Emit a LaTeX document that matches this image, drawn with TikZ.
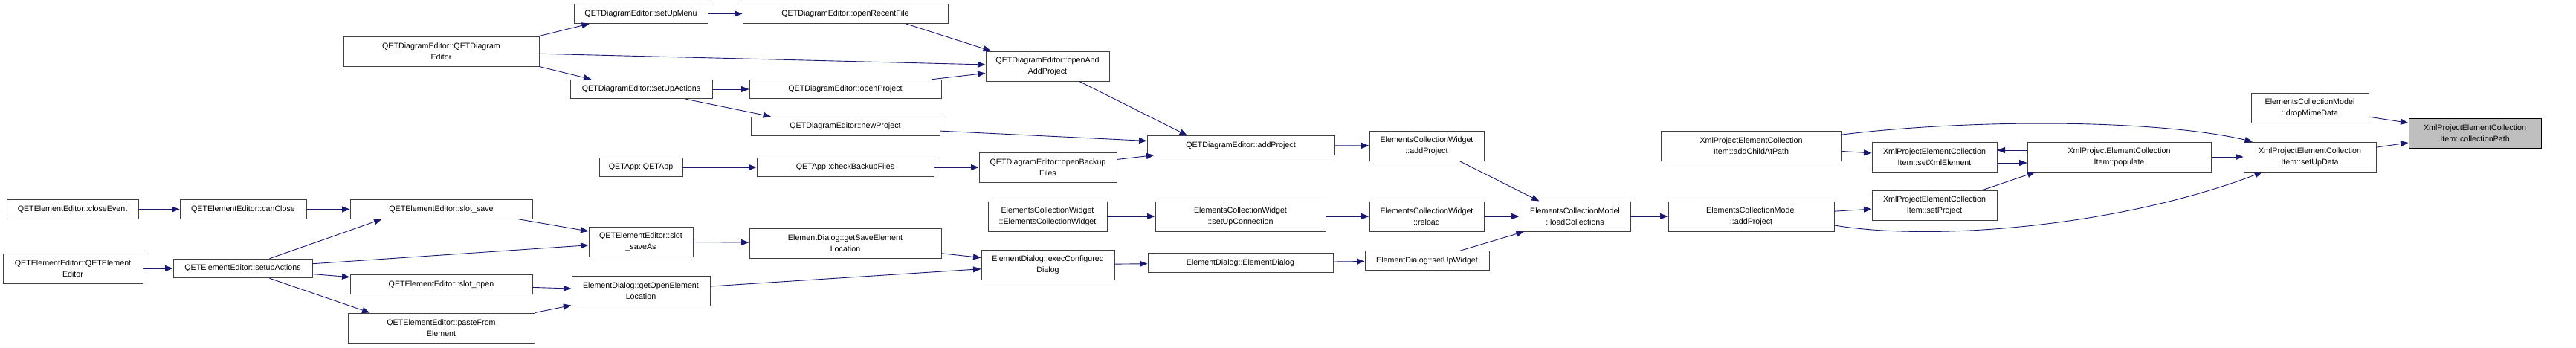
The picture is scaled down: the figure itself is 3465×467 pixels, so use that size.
\documentclass[tikz,border=0pt]{standalone}
\usepackage{fontspec}
\setmainfont{Liberation Sans}
\usetikzlibrary{arrows.meta}
\definecolor{edgeblue}{RGB}{25,25,112}
\definecolor{boxgrey}{RGB}{64,64,64}
\definecolor{hlgrey}{RGB}{191,191,191}

\begin{document}
\begin{tikzpicture}[x=1pt,y=-1pt,
  font=\fontsize{10.7pt}{14.6pt}\selectfont,
  fn/.style={draw=boxgrey,line width=1pt,fill=white,inner sep=0pt,
    align=center,minimum width=#1pt},
  one/.style={minimum height=25.5pt},
  two/.style={minimum height=40pt},
  arr/.style={edgeblue,line width=0.9pt,
    -{Triangle[length=10.5pt,width=8pt]}}]

\useasboundingbox (0,0) rectangle (3465,467);

% ---- QETElementEditor column ----
\node[fn=177,one] (closeEvent) at (97.5,281.5) {QETElementEditor::closeEvent};
\node[fn=188,two] (qeeCtor) at (98,361) {QETElementEditor::QETElement\\Editor};
\node[fn=170,one] (canClose) at (327,281.5) {QETElementEditor::canClose};
\node[fn=187,one] (qeeSetupActions) at (326.5,361) {QETElementEditor::setupActions};
\node[fn=245,one] (slotSave) at (593.5,281.5) {QETElementEditor::slot\_save};
\node[fn=245,one] (slotOpen) at (593.5,382.5) {QETElementEditor::slot\_open};
\node[fn=251,two] (pasteFrom) at (593.5,441) {QETElementEditor::pasteFrom\\Element};
\node[fn=140,two] (slotSaveAs) at (862,325) {QETElementEditor::slot\\\_saveAs};

% ---- ElementDialog ----
\node[fn=186,two] (getOpen) at (862,391) {ElementDialog::getOpenElement\\Location};
\node[fn=258,two] (getSave) at (1137,327) {ElementDialog::getSaveElement\\Location};
\node[fn=179,two] (execConf) at (1409.5,356) {ElementDialog::execConfigured\\Dialog};
\node[fn=249,one] (edCtor) at (1668.5,353.5) {ElementDialog::ElementDialog};
\node[fn=167,one] (setUpWidget) at (1919.5,350.5) {ElementDialog::setUpWidget};

% ---- collection widget / model ----
\node[fn=160,two] (ecwCtor) at (1409,291) {ElementsCollectionWidget\\::ElementsCollectionWidget};
\node[fn=229,two] (setUpConn) at (1668.5,291) {ElementsCollectionWidget\\::setUpConnection};
\node[fn=154,two] (reload) at (1919,291) {ElementsCollectionWidget\\::reload};
\node[fn=154,two] (ecwAddProject) at (1919,196) {ElementsCollectionWidget\\::addProject};
\node[fn=149,two] (loadColl) at (2118.5,291) {ElementsCollectionModel\\::loadCollections};
\node[fn=223,two] (ecmAddProject) at (2355.5,291) {ElementsCollectionModel\\::addProject};
\node[fn=158,two] (dropMimeData) at (3107,145) {ElementsCollectionModel\\::dropMimeData};

% ---- XmlProjectElementCollectionItem ----
\node[fn=243,two] (addChildAtPath) at (2355.5,196) {XmlProjectElementCollection\\Item::addChildAtPath};
\node[fn=168,two] (setXmlElement) at (2602,211) {XmlProjectElementCollection\\Item::setXmlElement};
\node[fn=168,two] (setProject) at (2602,276) {XmlProjectElementCollection\\Item::setProject};
\node[fn=247,two] (populate) at (2850.5,211) {XmlProjectElementCollection\\Item::populate};
\node[fn=178,two] (setUpData) at (3107,211) {XmlProjectElementCollection\\Item::setUpData};
\node[fn=178,two,fill=hlgrey,draw=black] (collectionPath) at (3329,179)
  {XmlProjectElementCollection\\Item::collectionPath};

% ---- QETDiagramEditor / QETApp ----
\node[fn=263,two] (qdeCtor) at (593.5,69) {QETDiagramEditor::QETDiagram\\Editor};
\node[fn=180,one] (setUpMenu) at (862,18.5) {QETDiagramEditor::setUpMenu};
\node[fn=191,one] (qdeSetUpActions) at (862.5,120) {QETDiagramEditor::setUpActions};
\node[fn=112,one] (qetAppCtor) at (862,225) {QETApp::QETApp};
\node[fn=276,one] (openRecent) at (1137,18.5) {QETDiagramEditor::openRecentFile};
\node[fn=258,one] (openProject) at (1137,120) {QETDiagramEditor::openProject};
\node[fn=254,one] (newProject) at (1137,170) {QETDiagramEditor::newProject};
\node[fn=238,one] (checkBackup) at (1137,225) {QETApp::checkBackupFiles};
\node[fn=166,two] (openAndAdd) at (1409,89) {QETDiagramEditor::openAnd\\AddProject};
\node[fn=185,two] (openBackup) at (1409.5,225) {QETDiagramEditor::openBackup\\Files};
\node[fn=252,one] (qdeAddProject) at (1669,195.5) {QETDiagramEditor::addProject};

% ---- calls ----
\draw[arr] (closeEvent) -- (canClose);
\draw[arr] (canClose) -- (slotSave);
\draw[arr] (qeeCtor) -- (qeeSetupActions);
\draw[arr] ([xshift=36pt]qeeSetupActions.north) -- ([xshift=-80pt]slotSave.south);
\draw[arr] (qeeSetupActions) -- (slotSaveAs);
\draw[arr] (qeeSetupActions) -- (slotOpen);
\draw[arr] ([xshift=36pt]qeeSetupActions.south) -- ([xshift=-96pt]pasteFrom.north);
\draw[arr] ([xshift=104pt]slotSave.south) -- ([yshift=14pt]slotSaveAs.west);
\draw[arr] (slotOpen) -- (getOpen);
\draw[arr] (pasteFrom.north east) -- ([yshift=1pt]getOpen.south west);
\draw[arr] (slotSaveAs) -- (getSave);
\draw[arr] (getSave) -- (execConf);
\draw[arr] (getOpen) -- (execConf);
\draw[arr] (execConf) -- (edCtor);
\draw[arr] (edCtor) -- (setUpWidget);
\draw[arr] (setUpWidget) -- (loadColl);
\draw[arr] (ecwCtor) -- (setUpConn);
\draw[arr] (setUpConn) -- (reload);
\draw[arr] (reload) -- (loadColl);
\draw[arr] ([xshift=44pt]ecwAddProject.south) -- ([xshift=-48pt]loadColl.north);
\draw[arr] (qdeAddProject) -- (ecwAddProject);
\draw[arr] ([xshift=43pt]openAndAdd.south) -- ([xshift=-72pt]qdeAddProject.north);
\draw[arr] (newProject) -- (qdeAddProject);
\draw[arr] (openBackup) -- (qdeAddProject);
\draw[arr] (qetAppCtor) -- (checkBackup);
\draw[arr] (checkBackup) -- (openBackup);
\draw[arr] (qdeCtor.north east) -- ([xshift=-69pt]setUpMenu.south);
\draw[arr] (qdeCtor) -- (openAndAdd);
\draw[arr] (qdeCtor.south east) -- ([xshift=-67pt]qdeSetUpActions.north);
\draw[arr] (setUpMenu) -- (openRecent);
\draw[arr] (qdeSetUpActions) -- (openProject);
\draw[arr] ([xshift=60pt]qdeSetUpActions.south) -- ([xshift=-100pt]newProject.north);
\draw[arr] ([xshift=81pt]openRecent.south) -- ([xshift=-76pt]openAndAdd.north);
\draw[arr] (openProject) -- (openAndAdd);
\draw[arr] (loadColl) -- (ecmAddProject);
\draw[arr] (ecmAddProject) -- (setProject);
\draw[arr] ([yshift=-12pt]ecmAddProject.east) .. controls (2600,325) and (2850,305)
  .. ([xshift=-64pt]setUpData.south);
\draw[arr] (addChildAtPath) -- (setXmlElement);
\draw[arr] ([yshift=15pt]addChildAtPath.east) .. controls (2650,160) and (2900,160)
  .. ([xshift=-77pt]setUpData.north);
\draw[arr] ([yshift=-8pt]setXmlElement.east) -- ([yshift=-8pt]populate.west);
\draw[arr] ([yshift=9pt]populate.west) -- ([yshift=9pt]setXmlElement.east);
\draw[arr] ([xshift=65pt]setProject.north) -- ([xshift=-113pt]populate.south);
\draw[arr] (populate) -- (setUpData);
\draw[arr] (setUpData) -- (collectionPath);
\draw[arr] (dropMimeData) -- (collectionPath);
\end{tikzpicture}
\end{document}
